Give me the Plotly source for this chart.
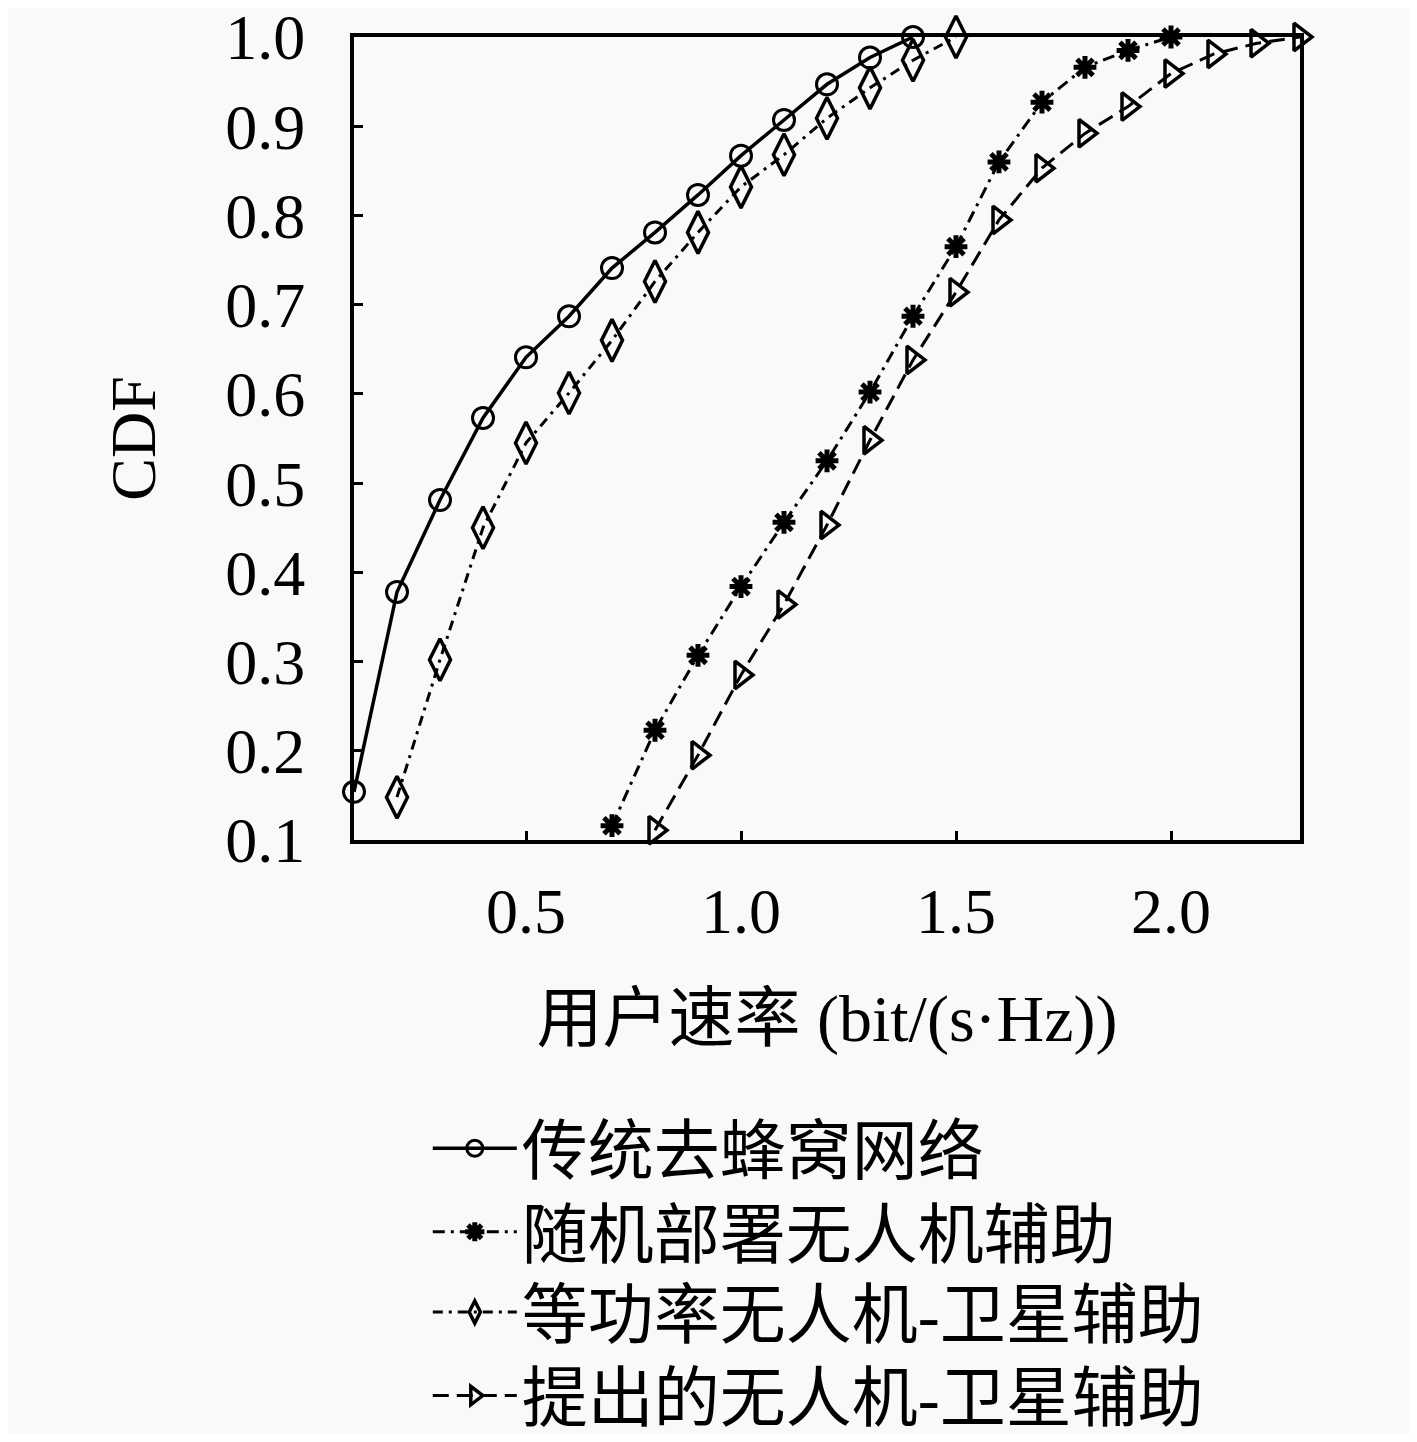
import plotly.graph_objects as go

names = ["传统去蜂窝网络", "随机部署无人机辅助", "等功率无人机-卫星辅助", "提出的无人机-卫星辅助"]

x_conv = [0.1, 0.2, 0.3, 0.4, 0.5, 0.6, 0.7, 0.8, 0.9, 1.0, 1.1, 1.2, 1.3, 1.4]
y_conv = [0.154, 0.378, 0.481, 0.573, 0.641, 0.687, 0.741, 0.781, 0.823, 0.867, 0.907, 0.947, 0.977, 1.0]

x_rand = [0.7, 0.8, 0.9, 1.0, 1.1, 1.2, 1.3, 1.4, 1.5, 1.6, 1.7, 1.8, 1.9, 2.0]
y_rand = [0.116, 0.223, 0.307, 0.384, 0.456, 0.525, 0.602, 0.687, 0.765, 0.860, 0.927, 0.966, 0.985, 1.0]

x_eq = [0.2, 0.3, 0.4, 0.5, 0.6, 0.7, 0.8, 0.9, 1.0, 1.1, 1.2, 1.3, 1.4, 1.5]
y_eq = [0.148, 0.302, 0.450, 0.545, 0.601, 0.660, 0.726, 0.781, 0.832, 0.868, 0.909, 0.943, 0.974, 1.0]

x_prop = [0.8, 0.9, 1.0, 1.1, 1.2, 1.3, 1.4, 1.5, 1.6, 1.7, 1.8, 1.9, 2.0, 2.1, 2.2, 2.3]
y_prop = [0.111, 0.195, 0.285, 0.364, 0.453, 0.548, 0.638, 0.714, 0.795, 0.853, 0.892, 0.922, 0.959, 0.981, 0.993, 1.0]

x_ticks = [0.5, 1.0, 1.5, 2.0]
y_ticks = [0.1, 0.2, 0.3, 0.4, 0.5, 0.6, 0.7, 0.8, 0.9, 1.0]

serif = "Liberation Serif, DejaVu Serif, serif"
cjk = "Liberation Serif, Noto Sans CJK SC, serif"

fig = go.Figure()
fig.add_trace(go.Scatter(
    x=x_conv, y=y_conv, name=names[0], mode="lines+markers", legend="legend",
    line=dict(color="black", width=3.5),
    marker=dict(symbol="circle-open", size=21, color="black", line=dict(width=3)),
    cliponaxis=False))
fig.add_trace(go.Scatter(
    x=x_rand, y=y_rand, name=names[1], mode="lines+markers", legend="legend2",
    line=dict(color="black", width=3, dash="12px,6px,3px,6px"),
    marker=dict(symbol="asterisk-open", size=19, color="black", line=dict(width=5)),
    cliponaxis=False))
fig.add_trace(go.Scatter(
    x=x_eq, y=y_eq, name=names[2], mode="lines+markers", legend="legend3",
    line=dict(color="black", width=3, dash="10px,6px,3px,6px"),
    marker=dict(symbol="diamond-tall-open", size=30, color="black", line=dict(width=3.5)),
    cliponaxis=False))
fig.add_trace(go.Scatter(
    x=x_prop, y=y_prop, name=names[3], mode="lines+markers", legend="legend4",
    line=dict(color="black", width=3, dash="16px,8px"),
    marker=dict(symbol="triangle-right-open", size=24, color="black", line=dict(width=3.5)),
    cliponaxis=False))

leg_common = dict(
    x=0.078, xanchor="left", yanchor="middle",
    font=dict(family=cjk, size=66, color="black"),
    bgcolor="rgba(0,0,0,0)", itemwidth=84,
)

fig.update_layout(
    width=1401, height=1426,
    margin=dict(l=346, r=109, t=29, b=594, autoexpand=False),
    paper_bgcolor="#f9f9f9", plot_bgcolor="#f9f9f9",
    showlegend=True,
    legend=dict(y=-0.384, **leg_common),
    legend2=dict(y=-0.488, **leg_common),
    legend3=dict(y=-0.588, **leg_common),
    legend4=dict(y=-0.692, **leg_common),
    font=dict(family=serif, color="black"),
)
fig.update_xaxes(
    range=[0.1, 2.3], tickvals=x_ticks, ticktext=[f"{v:.1f}" for v in x_ticks],
    ticks="inside", ticklen=9, tickwidth=3, tickcolor="black",
    showline=True, linewidth=4, linecolor="black", mirror=True,
    showgrid=False, zeroline=False,
    tickfont=dict(family=serif, size=64, color="black"),
    ticklabelstandoff=12, ticklabeloverflow="allow",
    title=dict(text="用户速率 (bit/(s·Hz))", font=dict(family=cjk, size=66, color="black"), standoff=50),
)
fig.update_yaxes(
    range=[0.1, 1.0], tickvals=y_ticks, ticktext=[f"{v:.1f}" for v in y_ticks],
    ticks="inside", ticklen=9, tickwidth=3, tickcolor="black",
    showline=True, linewidth=4, linecolor="black", mirror=True,
    showgrid=False, zeroline=False,
    tickfont=dict(family=serif, size=64, color="black"),
    ticklabelstandoff=32, ticklabeloverflow="allow",
    title=dict(text="CDF", font=dict(family=serif, size=64, color="black"), standoff=50),
)

fig.write_html("out.html")
